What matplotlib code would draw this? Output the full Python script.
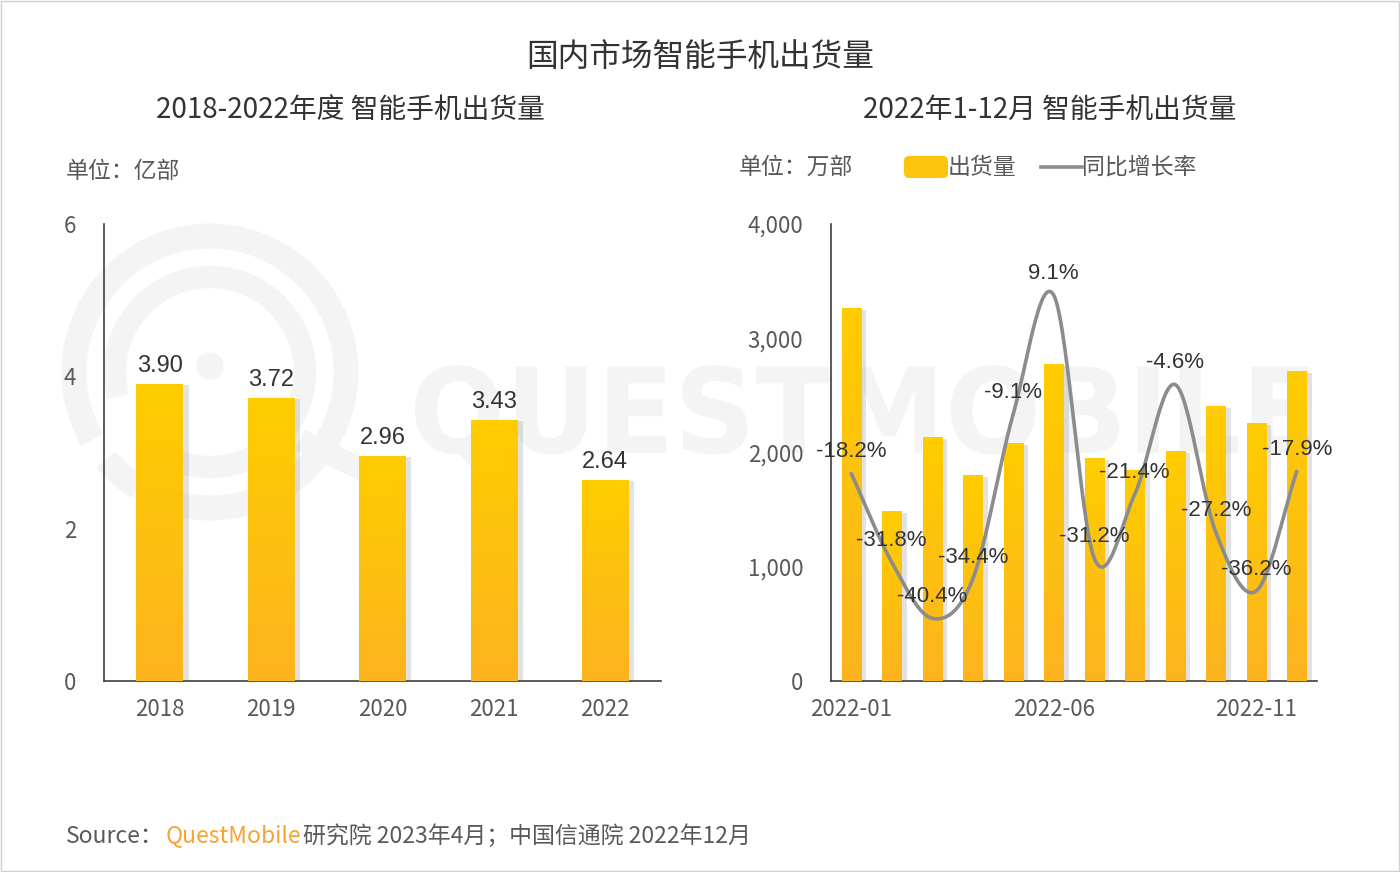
import numpy as np
import matplotlib
matplotlib.use('Agg')
import matplotlib.pyplot as plt
import matplotlib.patheffects as pe
from matplotlib.colors import LinearSegmentedColormap
from matplotlib.patches import FancyBboxPatch, Rectangle, Circle, Arc, PathPatch
from matplotlib.textpath import TextPath
from matplotlib.font_manager import FontProperties
from matplotlib.transforms import Affine2D
from matplotlib.ticker import FuncFormatter

plt.rcParams['font.family'] = ['Noto Sans CJK SC', 'DejaVu Sans']

# left chart: yearly shipments (亿部)
years = ['2018', '2019', '2020', '2021', '2022']
annual = [3.90, 3.72, 2.96, 3.43, 2.64]

# right chart: monthly shipments 2022 (万部) and YoY growth (%)
months = ['2022-01', '2022-02', '2022-03', '2022-04', '2022-05', '2022-06',
          '2022-07', '2022-08', '2022-09', '2022-10', '2022-11', '2022-12']
monthly = [3263, 1486, 2134, 1800, 2080, 2773, 1950, 1846, 2012, 2406, 2257, 2712]
yoy = [-18.2, -31.8, -40.4, -34.4, -9.1, 9.1, -31.2, -21.4, -4.6, -27.2, -36.2, -17.9]

W, H = 1400, 872
fig = plt.figure(figsize=(W / 100, H / 100), dpi=100)

# background layer in pixel coords (texts, watermark, border)
bg = fig.add_axes([0, 0, 1, 1], zorder=-1)
bg.set_xlim(0, W)
bg.set_ylim(H, 0)
bg.axis('off')

# faint watermark logo
wm = '#f4f4f4'
bg.add_patch(Arc((210, 372), 272, 272, theta1=150, theta2=470, ec=wm, lw=18))
bg.add_patch(Arc((210, 372), 272, 272, theta1=122, theta2=140, ec=wm, lw=18))
bg.add_patch(Arc((210, 372), 190, 190, theta1=165, theta2=480, ec=wm, lw=16))
bg.add_patch(Circle((210, 366), 13, color=wm))
bg.plot([300, 380], [440, 478], color=wm, lw=16, solid_capstyle='butt')
tp = TextPath((0, 0), 'QUESTMOBILE', size=100, prop=FontProperties(family='DejaVu Sans',
                                                                    weight='bold'))
ext = tp.get_extents()
sx = (1310 - 415) / ext.width
sy = (470 - 365) / ext.height
tr = Affine2D().translate(-ext.x0, -ext.y0).scale(sx, -sy).translate(415, 470)
bg.add_patch(PathPatch(tr.transform_path(tp), fc=wm, ec='none'))

bg.add_patch(Rectangle((1, 1), W - 2, H - 2, fill=False, ec='#d0d0d0', lw=1))

dark = '#333333'
grey = '#595959'
bg.text(700, 57, '国内市场智能手机出货量', fontsize=22.8, color=dark, ha='center', va='center',
        weight='medium')
bg.text(350, 110, '2018-2022年度 智能手机出货量', fontsize=20, color=dark, ha='center',
        va='center', weight='medium')
bg.text(1050, 110, '2022年1-12月 智能手机出货量', fontsize=20, color=dark, ha='center',
        va='center', weight='medium')
bg.text(66, 171, '单位：亿部', fontsize=16.5, color=grey, va='center')
bg.text(739, 167, '单位：万部', fontsize=16.5, color=grey, va='center')

# legend
bg.add_patch(FancyBboxPatch((904, 156), 44, 22, boxstyle='round,pad=0,rounding_size=5',
                            fc='#FFC40C', ec='none'))
bg.text(948, 167, '出货量', fontsize=16.5, color=grey, va='center')
bg.plot([1041, 1082], [167, 167], color='#8c8c8c', lw=2.6)
bg.text(1082, 167, '同比增长率', fontsize=16.5, color=grey, va='center')

# source line
src = [('Source：', grey), ('QuestMobile', '#F7A233'),
       ('研究院 2023年4月；中国信通院 2022年12月', grey)]
fig.canvas.draw()
rend = fig.canvas.get_renderer()
x = 66
for s, c in src:
    t = bg.text(x, 836, s, fontsize=16.5, color=c, va='center')
    x += t.get_window_extent(rend).width + 2

grad = np.linspace(0, 1, 256).reshape(-1, 1)
cmap = LinearSegmentedColormap.from_list('g', ['#FCB41F', '#FFCD00'])


def grad_bars(ax, xs, hs, width):
    bars = ax.bar(xs, hs, width, color='#FFC40C', zorder=2)
    for b in bars:
        b.set_path_effects([pe.SimplePatchShadow(offset=(4, -1), shadow_rgbFace='#a0a0a0',
                                                 alpha=0.3), pe.Normal()])
        x0 = b.get_x()
        im = ax.imshow(grad, extent=(x0, x0 + b.get_width(), 0, b.get_height()),
                       origin='lower', cmap=cmap, aspect='auto', zorder=3)
        im.set_clip_path(b)
    return bars


def style(ax):
    ax.set_facecolor('none')
    for s in ['top', 'right']:
        ax.spines[s].set_visible(False)
    for s in ['left', 'bottom']:
        ax.spines[s].set_color('#404040')
        ax.spines[s].set_linewidth(1.2)
    ax.tick_params(length=0, labelsize=16, labelcolor=grey)
    ax.tick_params(axis='y', pad=20)
    ax.tick_params(axis='x', pad=12)


# left chart
ax1 = fig.add_axes([104 / W, 1 - 681 / H, (661 - 104) / W, 457 / H])
style(ax1)
xs1 = np.arange(len(years))
grad_bars(ax1, xs1, annual, 0.42)
for xi, v in zip(xs1, annual):
    ax1.annotate(f'{v:.2f}', (xi, v), xytext=(0, 5), textcoords='offset points',
                 ha='center', va='bottom', fontsize=17, color=dark,
                 family='Liberation Sans', zorder=5)
ax1.set_xlim(-0.5, 4.5)
ax1.set_ylim(0, 6)
ax1.set_yticks([0, 2, 4, 6])
ax1.set_xticks(xs1, years)

# right chart
ax2 = fig.add_axes([831 / W, 1 - 681 / H, (1317 - 831) / W, 457 / H])
style(ax2)
xs2 = np.arange(len(months))
grad_bars(ax2, xs2, monthly, 0.47)
ax2.set_xlim(-0.5, 11.5)
ax2.set_ylim(0, 4000)
ax2.set_yticks([0, 1000, 2000, 3000, 4000])
ax2.yaxis.set_major_formatter(FuncFormatter(lambda v, p: f'{int(v):,}'))
ax2.set_xticks(xs2[::5], [months[i] for i in xs2[::5]])

ax3 = ax2.twinx()
ax3.set_ylim(-50, 20)
ax3.axis('off')
# smooth curve through the points (Catmull-Rom)
px = np.array(xs2, dtype=float)
py = np.array(yoy)
P = np.column_stack([px, py])
P = np.vstack([P[0] - (P[1] - P[0]), P, P[-1] + (P[-1] - P[-2])])
curve = []
tt = np.linspace(0, 1, 30)[:, None]
for i in range(1, len(P) - 2):
    p0, p1, p2, p3 = P[i - 1], P[i], P[i + 1], P[i + 2]
    seg = 0.5 * ((2 * p1) + (-p0 + p2) * tt + (2 * p0 - 5 * p1 + 4 * p2 - p3) * tt ** 2
                 + (-p0 + 3 * p1 - 3 * p2 + p3) * tt ** 3)
    curve.append(seg)
curve = np.vstack(curve)
ax3.plot(curve[:, 0], curve[:, 1], color='#8c8c8c', lw=2.6, zorder=4,
         solid_capstyle='round')
for xi, v in zip(xs2, yoy):
    ax3.annotate(f'{v:.1f}%', (xi, v), xytext=(0, 8), textcoords='offset points',
                 ha='center', va='bottom', fontsize=16, color=dark,
                 family='Liberation Sans', zorder=6)
ax3.set_xlim(-0.5, 11.5)

fig.savefig('out.png', dpi=100)
